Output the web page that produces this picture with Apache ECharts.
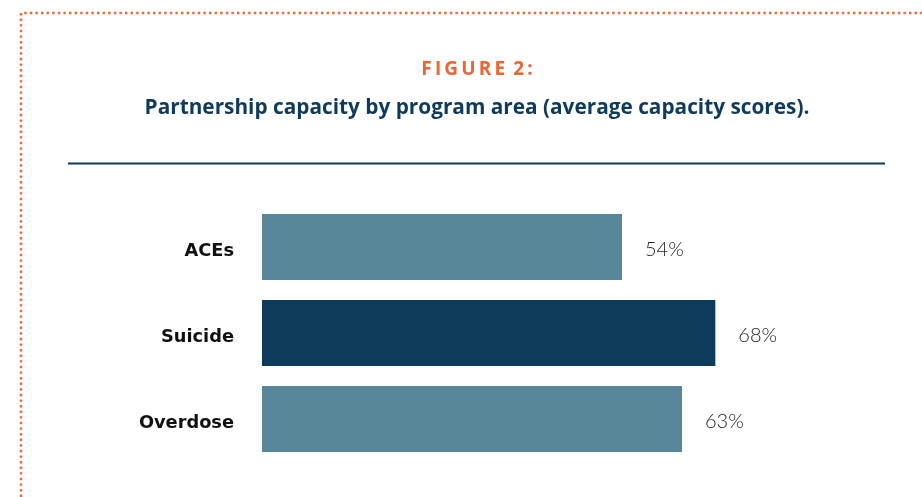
<!DOCTYPE html>
<html>
<head>
<meta charset="utf-8">
<script src="https://cdn.jsdelivr.net/npm/echarts@6/dist/echarts.min.js"></script>
<style>
  html, body { margin: 0; padding: 0; background: #fff; }
  #chart { width: 922px; height: 497px; }
</style>
</head>
<body>
<div id="chart"></div>
<script>
// Program areas and their average partnership capacity scores (%)
const categories = ['ACEs', 'Suicide', 'Overdose'];
const scores = [54, 68, 63];
const highlight = 'Suicide';

const titleText = 'F\u2009I\u2009G\u2009U\u2009R\u2009E\u2009 2\u2009:';
const subtitleText = 'Partnership capacity by program area (average capacity scores).';

const chart = echarts.init(document.getElementById('chart'));

const NAVY = '#0e3a5b';
const TEAL = '#588799';
const ORANGE = '#ec6533';
const HEAD_X = 477; // horizontal centre of the framed panel

chart.setOption({
  animation: false,
  backgroundColor: '#ffffff',
  graphic: [
    // dotted frame along the top and left edges
    {
      type: 'polyline',
      silent: true,
      shape: { points: [[21, 497], [21, 13], [922, 13]] },
      style: { stroke: ORANGE, lineWidth: 2.5, lineDash: [2.4, 3.2], fill: null }
    },
    // heading
    {
      type: 'text',
      silent: true,
      x: HEAD_X,
      y: 70,
      style: {
        text: titleText,
        align: 'center',
        verticalAlign: 'middle',
        fill: ORANGE,
        fontFamily: 'Open Sans',
        fontWeight: 'bold',
        fontSize: 19
      }
    },
    {
      type: 'text',
      silent: true,
      x: HEAD_X,
      y: 108.5,
      style: {
        text: subtitleText,
        align: 'center',
        verticalAlign: 'middle',
        fill: NAVY,
        fontFamily: 'Open Sans',
        fontWeight: 'bold',
        fontSize: 20.8
      }
    },
    // rule under the heading
    {
      type: 'line',
      silent: true,
      shape: { x1: 68, y1: 163.5, x2: 885, y2: 163.5 },
      style: { stroke: NAVY, lineWidth: 2 }
    }
  ],
  grid: { left: 262, top: 204, right: 0, height: 258, containLabel: false },
  xAxis: {
    type: 'value',
    min: 0,
    max: 99,
    show: false
  },
  yAxis: {
    type: 'category',
    data: categories,
    inverse: true,
    axisLine: { show: false },
    axisTick: { show: false },
    splitLine: { show: false },
    axisLabel: {
      margin: 28,
      color: '#111111',
      fontFamily: 'DejaVu Sans',
      fontWeight: 'bold',
      fontSize: 17.8,
      verticalAlign: 'top',
      lineHeight: 9
    }
  },
  series: [
    {
      type: 'bar',
      barWidth: 66,
      data: scores.map((v, i) => ({
        value: v,
        itemStyle: { color: categories[i] === highlight ? NAVY : TEAL }
      })),
      label: {
        show: true,
        position: 'right',
        distance: 23,
        formatter: '{c}%',
        color: '#222222',
        fontFamily: 'Lato',
        fontWeight: 300,
        fontSize: 20,
        verticalAlign: 'top',
        lineHeight: 5
      }
    }
  ]
});
</script>
</body>
</html>
